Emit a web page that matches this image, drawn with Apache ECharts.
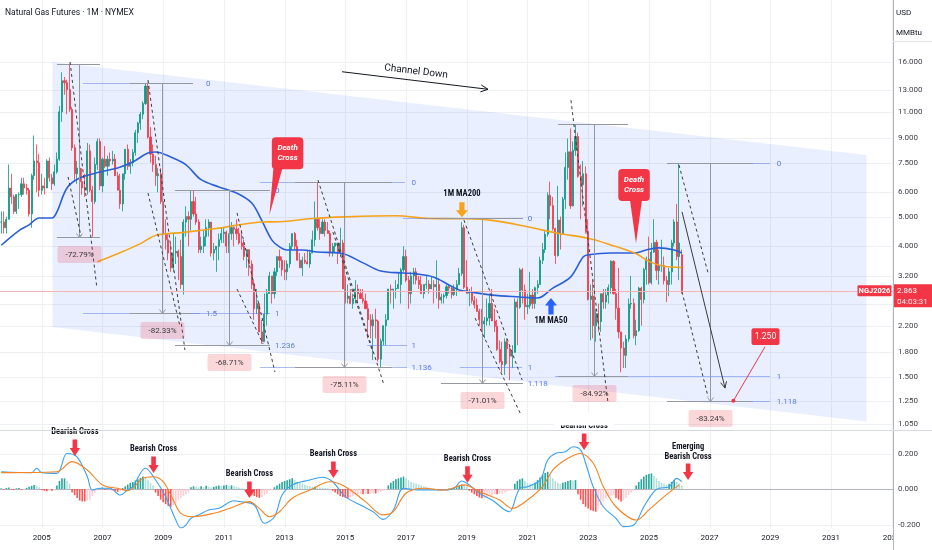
<!DOCTYPE html>
<html>
<head>
<meta charset="utf-8">
<title>Natural Gas Futures · 1M · NYMEX</title>
<script src="https://cdn.jsdelivr.net/npm/echarts@6/dist/echarts.min.js"></script>
<style>html,body{margin:0;padding:0;background:#fff;overflow:hidden}#chart{width:932px;height:550px}</style>
</head>
<body>
<div id="chart"></div>
<script>
// ---------------- categories: monthly, Sep 2003 .. Jan 2033 ----------------
const categories = [];
for (let i = 0; i < 353; i++) {
  const t = 2003 * 12 + 8 + i;
  categories.push(Math.floor(t / 12) + '-' + String(t % 12 + 1).padStart(2, '0'));
}

// ---------------- monthly candles (first = 2003-09) ----------------
const opens = [
  4.8,4.8,4.6,4.9,
  6.2,5.8,5.2,5.9,5.9,6.4,6.2,6.1,5.1,6.8,7.6,7.5,
  6.1,6.3,6.2,7.6,6.7,6.4,7.0,7.7,11.0,13.9,13.7,13.0,
  11.2,8.4,6.9,7.2,6.5,6.2,6.1,8.2,6.1,5.6,7.4,8.8,
  6.3,7.7,7.3,7.7,7.6,7.7,6.8,6.1,5.5,6.9,8.3,7.3,
  7.5,8.1,9.4,10.1,10.8,11.7,13.35,9.1,8.0,7.4,6.8,6.9,
  5.6,4.4,4.2,3.8,3.4,3.8,3.85,3.7,3.0,4.8,5.0,4.9,
  5.6,5.1,4.8,3.9,4.0,4.3,4.6,4.8,3.8,3.9,4.0,4.2,
  4.4,4.45,4.0,4.4,4.6,4.55,4.4,4.1,4.0,3.7,3.9,3.5,
  3.0,2.5,2.6,2.1,1.95,2.4,2.8,3.2,2.8,3.3,3.7,3.6,
  3.35,3.3,3.5,4.0,4.4,4.0,3.6,3.4,3.6,3.55,3.5,3.8,
  4.2,4.9,4.6,4.4,4.8,4.5,4.4,3.8,4.0,4.1,3.8,4.1,
  2.9,2.7,2.75,2.6,2.7,2.9,2.8,2.7,2.65,2.5,2.3,2.2,
  2.3,2.28,1.71,1.96,2.2,2.3,2.9,2.88,2.9,2.91,3.0,3.35,
  3.7,3.1,2.8,3.2,3.3,3.1,3.0,2.8,3.0,3.01,2.9,3.0,
  2.95,3.0,2.67,2.73,2.76,2.95,2.92,2.78,2.9,3.0,3.26,4.6,
  2.94,2.81,2.82,2.66,2.57,2.45,2.3,2.23,2.28,2.33,2.6,2.28,
  2.19,1.84,1.68,1.64,1.95,1.85,1.75,1.8,2.63,2.53,3.35,2.88,
  2.54,2.56,2.77,2.6,2.93,3.0,3.6,3.9,4.38,5.87,5.43,4.57,
  3.73,4.87,4.4,5.7,7.24,8.14,5.42,8.23,9.13,6.77,6.36,6.9,
  4.47,2.68,2.75,2.2,2.41,2.27,2.8,2.63,2.77,2.93,3.57,2.8,
  2.51,2.1,1.86,1.76,1.99,2.59,2.6,2.04,2.12,2.92,2.68,3.36,
  3.63,3.04,3.83,4.12,3.33,3.45,3.46,3.09,3.0,3.3,4.1,4.8,
  3.7,3.75
];
const highs = [
  5.2,5.2,5.0,7.4,
  6.9,5.9,5.9,6.0,6.7,6.7,6.4,6.2,6.9,9.2,8.6,8.0,
  6.9,6.7,7.7,7.8,6.9,7.4,8.1,11.5,14.8,14.3,14.0,15.8,
  11.4,8.6,7.6,7.9,7.2,6.9,8.7,8.6,6.3,7.8,9.0,9.0,
  7.8,8.5,7.9,8.1,8.2,8.0,7.0,6.9,6.9,8.3,8.6,7.7,
  8.3,9.6,10.2,11.0,11.9,13.6,13.7,9.8,8.6,7.9,7.2,7.2,
  6.3,4.9,4.4,4.1,4.4,4.3,3.9,4.2,4.9,5.4,5.2,6.1,
  6.1,5.8,4.9,4.3,4.5,4.9,4.9,4.8,4.1,4.0,4.4,4.6,
  4.6,4.5,4.4,4.8,4.7,4.9,4.6,4.5,4.2,3.9,3.9,3.6,
  3.1,2.9,2.6,2.3,2.8,2.9,3.3,3.2,3.4,3.7,3.9,3.7,
  3.6,3.6,4.1,4.4,4.45,4.2,3.8,3.7,3.8,3.9,3.9,4.5,
  5.6,6.49,4.9,4.9,4.9,4.8,4.5,4.1,4.1,4.1,4.6,4.2,
  3.2,3.0,2.9,2.8,3.1,3.0,2.9,2.9,2.8,2.6,2.4,2.4,
  2.5,2.3,2.0,2.2,2.4,2.9,3.0,2.9,3.1,3.3,3.4,4.0,
  3.9,3.2,3.3,3.4,3.4,3.2,3.2,3.0,3.2,3.1,3.2,3.1,
  3.6,3.1,2.8,2.8,3.0,3.0,2.95,3.0,3.1,3.4,4.8,4.7,
  3.6,2.9,2.95,2.75,2.7,2.5,2.5,2.35,2.7,2.8,2.9,2.5,
  2.3,1.97,1.95,2.0,2.0,1.9,1.9,2.7,2.7,3.4,3.4,3.0,
  2.8,3.3,2.9,2.95,3.1,3.7,4.1,4.5,6.0,6.5,5.8,4.6,
  6.3,5.0,5.8,8.1,9.0,9.7,8.8,10.0,9.4,7.4,7.6,7.3,
  4.9,3.0,3.1,2.5,2.6,2.8,2.9,2.9,3.0,3.6,3.6,2.9,
  3.4,2.1,1.95,2.05,2.7,3.2,2.7,2.3,2.95,2.95,3.4,3.7,
  4.3,4.1,4.9,4.2,3.9,4.2,3.7,3.2,3.4,4.2,4.9,5.5,
  7.46,3.9
];
const lows = [
  4.4,4.4,4.4,4.9,
  5.5,5.1,5.1,5.3,5.8,5.9,5.9,5.0,4.6,6.6,6.0,5.8,
  5.9,5.9,6.2,6.5,6.1,6.3,6.9,7.6,10.2,12.5,10.8,11.0,
  8.2,6.6,6.4,6.4,5.9,5.8,5.9,6.0,4.3,5.5,7.1,6.1,
  6.0,7.2,6.8,7.3,7.4,6.8,6.1,5.3,5.2,6.6,7.1,6.9,
  7.3,7.9,8.7,9.6,10.4,11.6,9.0,7.5,7.0,6.3,6.0,5.5,
  4.35,3.9,3.6,3.3,3.3,3.5,3.1,2.9,2.78,4.3,4.0,4.5,
  5.0,4.7,3.8,3.8,3.8,4.0,4.3,3.7,3.6,3.3,3.6,4.1,
  4.1,3.8,3.8,4.2,4.0,4.2,4.05,3.9,3.6,3.4,3.2,2.9,
  2.3,2.4,2.1,1.92,1.95,2.2,2.8,2.6,2.7,3.2,3.4,3.2,
  3.1,3.1,3.4,3.9,3.9,3.6,3.4,3.2,3.5,3.5,3.4,3.8,
  4.0,4.5,4.2,4.4,4.3,4.4,3.7,3.7,3.8,3.5,3.7,2.9,
  2.6,2.6,2.6,2.5,2.6,2.6,2.7,2.6,2.5,2.0,2.0,1.7,
  2.0,1.68,1.61,1.9,1.9,2.3,2.6,2.5,2.7,2.9,2.6,3.3,
  3.05,2.5,2.6,3.0,3.0,2.9,2.8,2.7,2.9,2.8,2.9,2.6,
  2.7,2.5,2.6,2.6,2.7,2.8,2.7,2.75,2.75,3.0,3.2,2.9,
  2.8,2.55,2.6,2.5,2.45,2.2,2.1,2.0,2.2,2.2,2.4,2.1,
  1.82,1.66,1.55,1.52,1.65,1.46,1.6,1.8,1.9,2.5,2.6,2.3,
  2.4,2.5,2.5,2.5,2.8,3.0,3.5,3.8,4.3,4.9,4.5,3.5,
  3.7,3.9,4.4,5.3,6.6,5.3,5.4,7.9,6.7,4.9,5.4,4.4,
  2.66,1.97,2.0,1.95,2.1,2.1,2.5,2.5,2.6,2.8,2.78,2.3,
  2.0,1.55,1.6,1.6,1.95,2.5,2.0,1.9,2.1,2.2,2.6,3.0,
  3.0,3.0,3.8,3.1,3.0,3.3,3.0,2.63,2.75,3.0,4.0,3.6,
  3.1,2.8
];
const closes = [
  4.8,4.6,4.9,6.2,
  5.8,5.2,5.9,5.9,6.4,6.2,6.1,5.1,6.8,7.6,7.5,6.1,
  6.3,6.2,7.6,6.7,6.4,7.0,7.7,11.0,13.9,13.7,13.0,11.2,
  8.4,6.9,7.2,6.5,6.2,6.1,8.2,6.1,5.6,7.4,8.8,6.3,
  7.7,7.3,7.7,7.6,7.7,6.8,6.1,5.5,6.9,8.3,7.3,7.5,
  8.1,9.4,10.1,10.8,11.7,13.35,9.1,8.0,7.4,6.8,6.9,5.6,
  4.4,4.2,3.8,3.4,3.8,3.85,3.7,3.0,4.8,5.0,4.9,5.6,
  5.1,4.8,3.9,4.0,4.3,4.6,4.8,3.8,3.9,4.0,4.2,4.4,
  4.45,4.0,4.4,4.6,4.55,4.4,4.1,4.0,3.7,3.9,3.5,3.0,
  2.5,2.6,2.1,1.95,2.4,2.8,3.2,2.8,3.3,3.7,3.6,3.35,
  3.3,3.5,4.0,4.4,4.0,3.6,3.4,3.6,3.55,3.5,3.8,4.2,
  4.9,4.6,4.4,4.8,4.5,4.4,3.8,4.0,4.1,3.8,4.1,2.9,
  2.7,2.75,2.6,2.7,2.9,2.8,2.7,2.65,2.5,2.3,2.2,2.3,
  2.28,1.71,1.96,2.2,2.3,2.9,2.88,2.9,2.91,3.0,3.35,3.7,
  3.1,2.8,3.2,3.3,3.1,3.0,2.8,3.0,3.01,2.9,3.0,2.95,
  3.0,2.67,2.73,2.76,2.95,2.92,2.78,2.9,3.0,3.26,4.6,2.94,
  2.81,2.82,2.66,2.57,2.45,2.3,2.23,2.28,2.33,2.6,2.28,2.19,
  1.84,1.68,1.64,1.95,1.85,1.75,1.8,2.63,2.53,3.35,2.88,2.54,
  2.56,2.77,2.6,2.93,3.0,3.6,3.9,4.38,5.87,5.43,4.57,3.73,
  4.87,4.4,5.7,7.24,8.14,5.42,8.23,9.13,6.77,6.36,6.9,4.47,
  2.68,2.75,2.2,2.41,2.27,2.8,2.63,2.77,2.93,3.57,2.8,2.51,
  2.1,1.86,1.76,1.99,2.59,2.6,2.04,2.12,2.92,2.68,3.36,3.63,
  3.04,3.83,4.12,3.33,3.45,3.46,3.09,3.0,3.3,4.1,4.8,3.7,
  4.1,2.863
];
const lastPrice = 2.863;
const symbolName = 'NGJ2026';
const countdown = '04:03:31';

// ---------------- moving averages ----------------
const ma50 = [['2003-09',4.03],['2004-04',4.5],['2004-08',4.7],['2004-12',4.95],['2005-05',4.95],['2005-07',5.18],['2005-11',6.2],['2006-04',6.68],['2006-12',6.99],['2007-07',7.21],['2008-01',7.54],['2008-07',8.07],['2008-10',8.13],['2009-04',7.83],['2009-09',7.48],['2009-11',7.26],['2010-04',6.6],['2010-11',6.25],['2011-06',5.97],['2011-12',5.54],['2012-04',4.85],['2012-08',4.19],['2012-11',3.98],['2013-02',3.89],['2013-08',3.89],['2014-02',3.83],['2014-11',3.80],['2015-08',3.53],['2016-03',3.32],['2016-12',3.27],['2017-05',3.25],['2017-12',3.17],['2018-06',2.99],['2018-10',2.88],['2019-02',2.84],['2019-11',2.77],['2020-10',2.73],['2021-05',2.71],['2021-11',2.92],['2022-06',3.17],['2022-11',3.69],['2023-01',3.75],['2023-10',3.80],['2024-07',3.80],['2024-12',3.89],['2025-05',3.95],['2025-11',3.89],['2026-02',3.80]];
const ma200 = [['2006-11',3.56],['2007-07',3.78],['2008-04',4.08],['2008-10',4.34],['2009-09',4.44],['2010-10',4.57],['2011-07',4.70],['2012-04',4.80],['2012-11',4.81],['2013-12',4.93],['2015-01',4.99],['2016-09',5.03],['2017-10',4.93],['2018-11',4.92],['2019-11',4.86],['2021-01',4.63],['2022-01',4.41],['2023-01',4.25],['2023-10',4.04],['2024-08',3.78],['2025-01',3.57],['2025-07',3.44],['2026-02',3.41]];

// ---------------- MACD pane ----------------
const macdLine = [['2003-09',0.097],['2004-09',0.092],['2004-11',0.117],['2005-01',0.092],['2005-07',0.088],['2005-11',0.20],['2006-03',0.18],['2006-07',0.07],['2006-09',-0.006],['2006-12',0.004],['2007-04',0.004],['2007-08',-0.034],['2007-11',-0.006],['2008-01',0.013],['2008-06',0.117],['2008-10',0.051],['2009-02',-0.043],['2009-06',-0.175],['2009-08',-0.22],['2009-10',-0.203],['2009-12',-0.165],['2010-03',-0.146],['2010-07',-0.118],['2010-11',-0.109],['2011-05',-0.066],['2011-07',-0.07],['2012-01',-0.09],['2012-05',-0.193],['2012-09',-0.156],['2012-12',-0.034],['2013-04',0.023],['2013-11',0.051],['2014-04',0.066],['2014-08',0.041],['2015-01',-0.043],['2015-07',-0.09],['2015-12',-0.128],['2016-04',-0.171],['2016-08',-0.118],['2016-12',0.004],['2017-06',-0.006],['2018-04',-0.006],['2018-08',0.004],['2018-11',0.045],['2019-02',0.023],['2019-06',-0.024],['2019-11',-0.062],['2020-06',-0.128],['2020-07',-0.109],['2020-10',0.004],['2021-01',0.013],['2021-06',0.051],['2021-09',0.163],['2021-12',0.20],['2022-04',0.21],['2022-07',0.238],['2022-10',0.22],['2022-12',0.145],['2023-03',0.013],['2023-07',-0.1],['2023-12',-0.165],['2024-03',-0.212],['2024-07',-0.203],['2024-11',-0.1],['2025-03',-0.015],['2025-05',0.004],['2025-09',0.013],['2025-12',0.06],['2026-02',0.041]];
const signalLine = [['2003-09',0.092],['2005-07',0.097],['2006-01',0.154],['2006-07',0.107],['2007-01',0.023],['2007-07',0.004],['2007-11',-0.01],['2008-05',0.06],['2008-09',0.069],['2009-01',0.041],['2009-05',-0.062],['2009-08',-0.137],['2010-01',-0.156],['2010-09',-0.137],['2011-05',-0.1],['2011-11',-0.071],['2012-03',-0.109],['2012-07',-0.156],['2012-11',-0.128],['2013-04',-0.052],['2013-11',-0.006],['2014-07',0.041],['2015-01',0.013],['2015-09',-0.071],['2016-04',-0.146],['2016-08',-0.128],['2017-01',-0.024],['2017-08',0.004],['2018-04',-0.006],['2018-12',0.023],['2019-06',-0.015],['2020-02',-0.062],['2020-07',-0.109],['2021-01',-0.062],['2021-07',0.013],['2021-11',0.107],['2022-05',0.173],['2022-10',0.20],['2023-03',0.145],['2023-07',0.013],['2023-12',-0.1],['2024-08',-0.175],['2025-01',-0.118],['2025-07',-0.043],['2026-01',0.023]];
const histValues = [
  0.004,-0.004,0.006,0.008,
  -0.005,-0.006,0.004,0.006,-0.004,-0.003,0.006,0.012,0.018,0.022,0.018,0.01,
  -0.006,-0.01,-0.012,-0.008,-0.01,-0.006,0.02,0.045,0.06,0.06,0.045,0.03,
  -0.02,-0.035,-0.05,-0.065,-0.07,-0.07,-0.065,-0.06,-0.04,-0.02,-0.008,0.005,
  0.008,-0.006,0.006,0.004,-0.008,-0.012,-0.016,-0.01,0.005,0.015,0.025,0.035,
  0.04,0.048,0.055,0.062,0.07,0.068,0.05,0.035,0.02,-0.02,-0.04,-0.06,
  -0.075,-0.085,-0.095,-0.1,-0.09,-0.08,-0.065,-0.05,-0.04,-0.03,-0.02,0.01,
  0.015,0.012,0.008,0.015,0.01,0.018,0.014,0.01,0.012,0.016,0.02,0.018,
  0.02,0.022,0.018,0.02,0.016,0.012,0.008,0.004,0.002,-0.015,-0.025,-0.035,
  -0.04,-0.045,-0.05,-0.045,-0.035,-0.025,-0.01,-0.005,0.01,0.02,0.03,0.04,
  0.045,0.05,0.055,0.06,0.05,0.04,0.035,0.03,0.025,0.02,0.015,0.012,
  0.012,0.01,0.008,0.006,0.005,0.004,0.002,-0.01,-0.02,-0.03,-0.04,-0.045,
  -0.05,-0.052,-0.05,-0.04,-0.035,-0.032,-0.03,-0.03,-0.028,-0.028,-0.026,-0.025,
  -0.025,-0.02,-0.015,-0.01,-0.005,0.02,0.035,0.045,0.055,0.06,0.065,0.07,
  0.06,0.05,0.04,0.035,0.03,0.025,0.02,0.015,0.012,0.008,0.005,0.004,
  -0.003,-0.005,-0.006,-0.004,-0.003,0.003,0.004,0.006,0.01,0.018,0.025,0.022,
  0.015,-0.01,-0.02,-0.03,-0.04,-0.048,-0.052,-0.05,-0.045,-0.04,-0.035,-0.03,
  -0.03,-0.028,-0.025,-0.02,-0.015,-0.01,-0.005,0.03,0.045,0.055,0.06,0.045,
  0.035,0.03,0.028,0.035,0.05,0.065,0.08,0.09,0.097,0.08,0.06,0.045,
  0.035,0.03,0.035,0.04,0.045,0.05,0.048,0.05,-0.03,-0.06,-0.085,-0.1,
  -0.11,-0.12,-0.125,-0.128,-0.11,-0.09,-0.07,-0.055,-0.045,-0.04,-0.035,-0.05,
  -0.06,-0.071,-0.065,-0.05,-0.035,-0.02,-0.01,0.02,0.04,0.055,0.07,0.08,
  0.085,0.088,0.075,0.06,0.045,0.035,0.03,0.025,0.03,0.04,0.05,0.04,
  0.03,0.02
];

// ---------------- axis tick labels ----------------
const priceTicks = [16, 13, 11, 9, 7.5, 6, 5, 4, 3.2, 2.6, 2.2, 1.8, 1.5, 1.25, 1.05];
const macdTicks = [0.2, 0, -0.2];

// ---------------- drawings (months counted from Jan 2004, prices) ----------------
const channel = [[16.2, 16.0], [338, 7.95], [338, 1.07], [16.2, 2.18]];
const measures = [
  {m1: 18.0, m2: 35.0, mid: 26.7, top: 15.8, bottom: 4.30, text: '-72.79%'},
  {m1: 46.9, m2: 71.8, mid: 59.5, top: 13.69, bottom: 2.419, text: '-82.33%'},
  {m1: 64.7, m2: 102.2, mid: 86.0, top: 6.10, bottom: 1.909, text: '-68.71%'},
  {m1: 112.1, m2: 150.5, mid: 131.5, top: 6.49, bottom: 1.615, text: '-75.11%'},
  {m1: 169.8, m2: 202.2, mid: 186.0, top: 4.93, bottom: 1.43, text: '-71.01%'},
  {m1: 216.1, m2: 243.7, mid: 230.3, top: 10.0, bottom: 1.508, text: '-84.92%'},
  {m1: 259.2, m2: 293.2, mid: 276.2, top: 7.46, bottom: 1.25, text: '-83.24%'}
];
const fibLevels = [
  {p: 13.69, m1: 28.3, m2: 71.8, lm: 76.9, text: '0'},
  {p: 2.419, m1: 28.3, m2: 74.6, lm: 76.9, text: '1.5'},
  {p: 6.10, m1: 90.4, m2: 102.2, lm: 104.2, text: '0'},
  {p: 2.419, m1: 46.9, m2: 102.2, lm: 104.2, text: '1'},
  {p: 1.909, m1: 64.7, m2: 101.4, lm: 104.2, text: '1.236'},
  {p: 6.49, m1: 98.3, m2: 155.6, lm: 158.2, text: '0'},
  {p: 1.909, m1: 140.6, m2: 156.4, lm: 158.2, text: '1'},
  {p: 1.615, m1: 98.3, m2: 156.4, lm: 158.2, text: '1.136'},
  {p: 4.93, m1: 154.8, m2: 202.2, lm: 204.1, text: '0'},
  {p: 1.615, m1: 177.3, m2: 201.9, lm: 204.1, text: '1'},
  {p: 1.43, m1: 177.3, m2: 201.9, lm: 204.1, text: '1.118'},
  {p: 7.46, m1: 259.2, m2: 299.9, lm: 302.5, text: '0'},
  {p: 1.508, m1: 214.9, m2: 299.9, lm: 302.5, text: '1'},
  {p: 1.25, m1: 259.2, m2: 299.9, lm: 302.5, text: '1.118'}
];
const dashSegs = [
  [23.2, 16.0, 33.8, 2.92], [22.4, 6.74, 27.5, 4.32],
  [54.0, 13.97, 68.6, 1.832], [54.0, 5.97, 66.7, 2.18],
  [89.2, 5.14, 104.2, 1.552], [89.2, 2.90, 99.5, 1.917],
  [121.2, 6.58, 147.3, 1.408], [127.1, 4.45, 142.6, 1.832],
  [178.9, 4.87, 201.9, 1.462], [183.3, 2.33, 201.1, 1.141],
  [221.2, 12.0, 235.8, 1.238],
  [263.9, 7.37, 275.4, 3.27], [265.1, 2.84, 275.4, 1.287]
];
const projection = [265.1, 5.18, 282.1, 1.376];
const target = {m: 285.4, p: 1.25, m2: 297.9, p2: 1.878};
const channelArrow = [130.7, 14.87, 188.4, 13.03];
const deathCrosses = [
  {m: 102.0, p: 5.06, dx: 2.4, dy: -77.7, b1: 4, b2: 13},
  {m: 246.9, p: 4.09, dx: -17.7, dy: -74.3, b1: -6, b2: 6}
];
const maNotes = [
  {m: 178.1, p: 4.98, text: '1M MA200', dir: 'down', color: '#f7a21b'},
  {m: 213.3, p: 2.71, text: '1M MA50', dir: 'up', color: '#2962ff'}
];
const crossNotes = [
  {m: 25.1, v: 0.186, text: 'Bearish Cross'},
  {m: 56.2, v: 0.090, text: 'Bearish Cross'},
  {m: 94.1, v: -0.051, text: 'Bearish Cross'},
  {m: 127.3, v: 0.062, text: 'Bearish Cross'},
  {m: 180.3, v: 0.035, text: 'Bearish Cross'},
  {m: 226.4, v: 0.22, text: 'Bearish Cross', clipTop: true},
  {m: 267.5, v: 0.051, text: 'Emerging\nBearish Cross'}
];

// ---------------- chart ----------------
const FONT = 'Roboto, "Noto Sans", "DejaVu Sans", sans-serif';
const NARROW = '"Liberation Sans Narrow", "Roboto Condensed", "DejaVu Sans Condensed", Roboto, sans-serif';
const AX = 893;
const chart = echarts.init(document.getElementById('chart'));

const candleData = opens.map((o, i) => [o, closes[i], lows[i], highs[i]]);
const histData = histValues.map((v, i) => {
  const prev = i > 0 ? histValues[i - 1] : 0;
  let c;
  if (v >= 0) c = v >= prev ? '#26a69a' : '#b2dfdb';
  else c = v <= prev ? '#ff5252' : '#ffcdd2';
  return {value: v, itemStyle: {color: c}};
});
const isLabelMonth = v => /-01$/.test(v) && parseInt(v, 10) % 2 === 1;

chart.setOption({
  animation: false,
  backgroundColor: '#ffffff',
  grid: [
    {left: 0, right: 39, top: 0, height: 430},
    {left: 0, right: 39, top: 430.5, height: 97.5}
  ],
  xAxis: [
    {type: 'category', gridIndex: 0, data: categories, axisLine: {show: false}, axisTick: {show: false}, axisLabel: {show: false}, splitLine: {show: false}},
    {type: 'category', gridIndex: 1, data: categories, axisLine: {show: true, lineStyle: {color: '#b2b5be', width: 1}}, axisTick: {show: false},
      axisLabel: {show: true, interval: (i, v) => isLabelMonth(v), formatter: v => v.slice(0, 4), color: '#131722', fontSize: 8, fontFamily: FONT, margin: 6},
      splitLine: {show: false}}
  ],
  yAxis: [
    {type: 'log', gridIndex: 0, min: 1.0038, max: 25.51, position: 'right', axisLine: {show: false}, axisTick: {show: false}, axisLabel: {show: false}, splitLine: {show: false}},
    {type: 'value', gridIndex: 1, min: -0.2197, max: 0.3296, position: 'right', axisLine: {show: false}, axisTick: {show: false}, axisLabel: {show: false}, splitLine: {show: false}}
  ],
  series: [
    {type: 'candlestick', xAxisIndex: 0, yAxisIndex: 0, data: candleData, barWidth: 1.6, silent: true, z: 3,
      itemStyle: {color: '#089981', color0: '#f23645', borderColor: '#089981', borderColor0: '#f23645', borderWidth: 0.8}},
    {type: 'line', xAxisIndex: 0, yAxisIndex: 0, data: ma50, smooth: 0.35, symbol: 'none', silent: true, z: 4, lineStyle: {color: '#2b5fd9', width: 1.6}},
    {type: 'line', xAxisIndex: 0, yAxisIndex: 0, data: ma200, smooth: 0.35, symbol: 'none', silent: true, z: 4, lineStyle: {color: '#f5a31a', width: 1.6}},
    {type: 'bar', xAxisIndex: 1, yAxisIndex: 1, data: histData, barWidth: 1.6, silent: true, z: 3},
    {type: 'line', xAxisIndex: 1, yAxisIndex: 1, data: macdLine, smooth: 0.35, symbol: 'none', silent: true, z: 4, lineStyle: {color: '#3aa0f0', width: 1.1}},
    {type: 'line', xAxisIndex: 1, yAxisIndex: 1, data: signalLine, smooth: 0.35, symbol: 'none', silent: true, z: 4, lineStyle: {color: '#f5821f', width: 1.1}}
  ]
});

// ---------------- drawings via the chart's own scales ----------------
const x0 = chart.convertToPixel({xAxisIndex: 0}, '2004-01');
const dxm = chart.convertToPixel({xAxisIndex: 0}, '2004-02') - x0;
const X = m => x0 + m * dxm;
const Y = p => chart.convertToPixel({yAxisIndex: 0}, p);
const YM = v => chart.convertToPixel({yAxisIndex: 1}, v);
const r5 = v => Math.round(v) + 0.5;

function line(x1, y1, x2, y2, stroke, w, dash, z) {
  return {type: 'line', silent: true, z: z == null ? 10 : z, shape: {x1, y1, x2, y2}, style: {stroke, lineWidth: w || 1, lineDash: dash || null}};
}
function text(x, y, str, font, fill, align, va, z, rot, lh) {
  return {type: 'text', silent: true, z: z == null ? 20 : z, x, y, rotation: rot || 0,
    style: {text: str, x: 0, y: 0, font, fill, textAlign: align || 'center', textVerticalAlign: va || 'middle', align: align || 'center', verticalAlign: va || 'middle', lineHeight: lh || undefined}};
}
function rect(x, y, w, h, fill, r, z) {
  return {type: 'rect', silent: true, z: z == null ? 15 : z, shape: {x, y, width: w, height: h, r: r || 0}, style: {fill}};
}
function poly(points, fill, z) {
  return {type: 'polygon', silent: true, z: z == null ? 15 : z, shape: {points}, style: {fill}};
}
function polyline(points, stroke, w, z) {
  return {type: 'polyline', silent: true, z: z == null ? 10 : z, shape: {points}, style: {stroke, lineWidth: w || 1, fill: null}};
}
function arrowHead(x1, y1, x2, y2, len, color, w, z) {
  const a = Math.atan2(y2 - y1, x2 - x1);
  return polyline([[x2 - len * Math.cos(a - 0.45), y2 - len * Math.sin(a - 0.45)], [x2, y2], [x2 - len * Math.cos(a + 0.45), y2 - len * Math.sin(a + 0.45)]], color, w, z);
}

const g = [];
// grid lines
priceTicks.forEach(p => { const y = r5(Y(p)); g.push(line(0, y, AX, y, '#eef0f4', 1, null, 0)); });
macdTicks.forEach(v => { const y = r5(YM(v)); g.push(line(0, y, AX, y, '#eef0f4', 1, null, 0)); });
categories.forEach(c => { if (isLabelMonth(c)) { const x = r5(chart.convertToPixel({xAxisIndex: 0}, c)); g.push(line(x, 0, x, 528, '#eef0f4', 1, null, 0)); } });

// channel
g.push(poly(channel.map(([m, p]) => [X(m), Y(p)]), 'rgba(41,98,255,0.1)', 1));

// current price line
const yLast = Y(lastPrice);
g.push(line(0, r5(yLast), AX, r5(yLast), '#f5b3b9', 1, null, 5));

// measures
measures.forEach(ms => {
  const x1 = X(ms.m1), x2 = X(ms.m2), xm = r5(X(ms.mid)), yt = r5(Y(ms.top)), yb = r5(Y(ms.bottom));
  g.push(line(x1, yt, x2, yt, '#9598a1', 1, null, 8));
  g.push(line(x1, yb, x2, yb, '#9598a1', 1, null, 8));
  g.push(line(xm, yt, xm, yb, '#9598a1', 1, null, 8));
  g.push(polyline([[xm - 3, yb - 4], [xm, yb], [xm + 3, yb - 4]], '#9598a1', 1, 8));
  g.push(rect(xm - 22, yb + 8.5, 44, 17, 'rgba(242,54,69,0.2)', 2, 15));
  g.push(text(xm, yb + 17, ms.text, '8px ' + FONT, '#3a3a3a', 'center', 'middle', 16));
});
// fib levels
fibLevels.forEach(f => {
  const y = r5(Y(f.p));
  g.push(line(X(f.m1), y, X(f.m2), y, 'rgba(91,124,230,0.5)', 1, null, 7));
  g.push(text(X(f.lm), y, f.text, '8px ' + FONT, '#5b7ce6', 'left', 'middle', 16));
});
// dashed down legs
dashSegs.forEach(s => g.push(line(X(s[0]), Y(s[1]), X(s[2]), Y(s[3]), '#3b3b3b', 1, [3, 3], 9)));
// projection arrow
{
  const [m1, p1, m2, p2] = projection;
  const ax1 = X(m1), ay1 = Y(p1), ax2 = X(m2), ay2 = Y(p2);
  g.push(line(ax1, ay1, ax2, ay2, '#3b3b3b', 1, null, 9));
  g.push(arrowHead(ax1, ay1, ax2, ay2, 7, '#3b3b3b', 1, 9));
}
// target callout
{
  const tx = X(target.m), ty = Y(target.p), lx = X(target.m2), ly = Y(target.p2);
  g.push(line(tx, ty, lx, ly, '#f23645', 1, null, 12));
  g.push({type: 'circle', silent: true, z: 13, shape: {cx: tx, cy: ty, r: 2}, style: {fill: '#f23645'}});
  g.push(rect(lx - 13.5, ly - 18.4, 28, 16.7, '#f23645', 2, 14));
  g.push(text(lx + 0.5, ly - 10, target.p.toFixed(3), '8.5px ' + FONT, '#ffffff', 'center', 'middle', 16));
}
// channel down label
{
  const [m1, p1, m2, p2] = channelArrow;
  const cx1 = X(m1), cy1 = Y(p1), cx2 = X(m2), cy2 = Y(p2);
  g.push(line(cx1, cy1, cx2, cy2, '#131722', 1, null, 12));
  g.push(arrowHead(cx1, cy1, cx2, cy2, 8, '#131722', 1, 12));
  const a = Math.atan2(cy2 - cy1, cx2 - cx1);
  const mx = (cx1 + cx2) / 2 + Math.sin(a) * 9, my = (cy1 + cy2) / 2 - Math.cos(a) * 9;
  g.push(text(mx, my, 'Channel Down', '10px ' + FONT, '#131722', 'center', 'middle', 16, -a));
}
// death cross callouts
deathCrosses.forEach(d => {
  const tx = X(d.m), ty = Y(d.p), bx = tx + d.dx, by = ty + d.dy;
  g.push(rect(bx, by, 31.5, 32, '#f23645', 4, 14));
  g.push(poly([[tx + d.b1, by + 31], [tx + d.b2, by + 31], [tx, ty]], '#f23645', 14));
  g.push(text(bx + 15.75, by + 16, 'Death\nCross', 'italic bold 8px ' + FONT, '#ffffff', 'center', 'middle', 16, 0, 10));
});
// MA notes
maNotes.forEach(n => {
  const tx = X(n.m), ty = Y(n.p);
  if (n.dir === 'down') {
    g.push(poly([[tx - 2.6, ty - 15], [tx + 2.6, ty - 15], [tx + 2.6, ty - 7], [tx + 6, ty - 7], [tx, ty], [tx - 6, ty - 7], [tx - 2.6, ty - 7]], n.color, 25));
    g.push(text(tx, ty - 23, n.text, 'bold 8.5px ' + NARROW, '#131722', 'center', 'middle', 26));
  } else {
    g.push(poly([[tx - 2.6, ty + 16.5], [tx + 2.6, ty + 16.5], [tx + 2.6, ty + 7.5], [tx + 6, ty + 7.5], [tx, ty], [tx - 6, ty + 7.5], [tx - 2.6, ty + 7.5]], n.color, 25));
    g.push(text(tx, ty + 23, n.text, 'bold 8.5px ' + NARROW, '#131722', 'center', 'middle', 26));
  }
});
// MACD cross notes
crossNotes.forEach(n => {
  const tx = X(n.m), ty = YM(n.v);
  g.push(poly([[tx - 2.3, ty - 16.5], [tx + 2.3, ty - 16.5], [tx + 2.3, ty - 8], [tx + 5.2, ty - 8], [tx, ty], [tx - 5.2, ty - 8], [tx - 2.3, ty - 8]], '#f23645', 25));
  const multi = n.text.indexOf('\n') >= 0;
  g.push(text(tx, multi ? ty - 28.5 : ty - 24, n.text, 'bold 8.5px ' + NARROW, '#131722', 'center', 'middle', 26, 0, 10));
  if (n.clipTop) g.push(rect(tx - 30, 412, 60, 13.5, '#ffffff', 0, 27));
});

// price axis labels
priceTicks.forEach(p => g.push(text(898, Y(p), p.toFixed(3), '8px ' + FONT, '#3c3f47', 'left', 'middle', 40)));
macdTicks.forEach(v => g.push(text(898, YM(v), v.toFixed(3), '8px ' + FONT, '#3c3f47', 'left', 'middle', 40)));
g.push(text(896, 12.7, 'USD', '8px ' + FONT, '#131722', 'left', 'middle', 40));
g.push(text(896, 33.3, 'MMBtu', '8px ' + FONT, '#131722', 'left', 'middle', 40));

// last price labels
g.push(rect(857.5, yLast - 5.5, 34, 11, '#f23645', 1, 45));
g.push(text(874.5, yLast + 0.3, symbolName, 'bold 7.5px ' + FONT, '#ffffff', 'center', 'middle', 46));
g.push(rect(893, yLast - 6.5, 39, 23, '#f23645', 0, 45));
g.push(text(897, yLast + 0.5, lastPrice.toFixed(3), '8px ' + FONT, '#ffffff', 'left', 'middle', 46));
g.push(text(897, yLast + 11.5, countdown, '8px ' + FONT, 'rgba(255,255,255,0.9)', 'left', 'middle', 46));

// title
g.push(text(5, 13.3, 'Natural Gas Futures · 1M · NYMEX', '8.5px ' + FONT, '#131722', 'left', 'middle', 40));

// frame
g.push(rect(893.5, 529, 38.5, 21, '#ffffff', 0, 50));
g.push(line(AX + 0.5, 0, AX + 0.5, 550, '#b2b5be', 1, null, 60));
g.push(line(0, 430.5, 932, 430.5, '#d6d9e0', 1, null, 60));
g.push(line(AX, 41.5, 932, 41.5, '#e0e3eb', 1, null, 60));

chart.setOption({graphic: g});
</script>
</body>
</html>
